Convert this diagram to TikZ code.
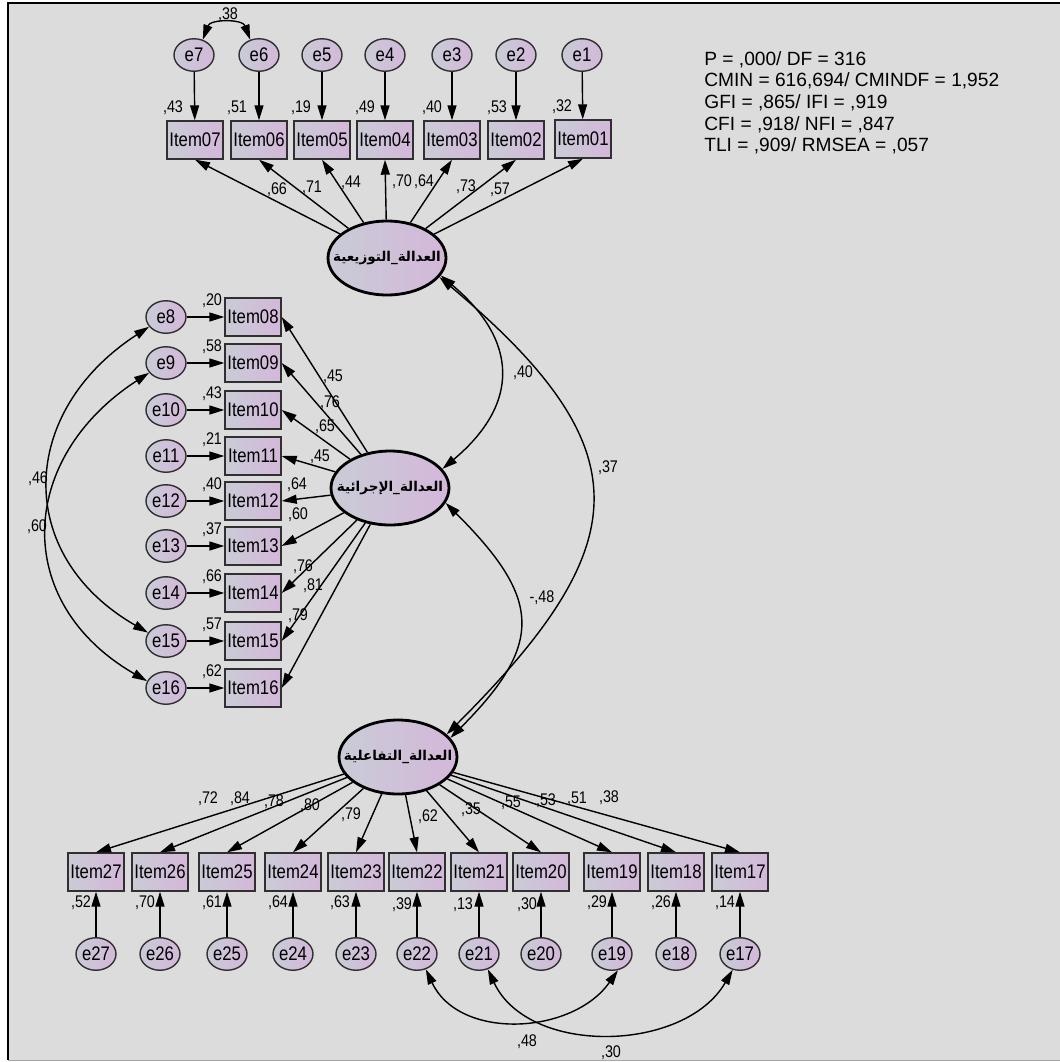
\documentclass[tikz,border=0pt]{standalone}
\usepackage{fontspec}
\setmainfont{Liberation Sans}
\newfontfamily\itemfont[FakeStretch=0.85]{Liberation Sans}
\newfontfamily\arabicfont[Script=Arabic]{DejaVu Sans}
\TeXXeTstate=1
\usepackage{xcolor}
\usetikzlibrary{arrows.meta,shapes.geometric}

\definecolor{bgfill}{HTML}{DCDCDC}
\definecolor{fillA}{HTML}{C9CCD6}
\definecolor{fillB}{HTML}{D4B7DA}
\definecolor{rim}{HTML}{303030}

\newcommand{\arlabel}[1]{\makebox[0pt]{\beginR #1\endR}}

\tikzset{
  obsbox/.style={draw=rim, line width=0.8pt, rectangle, minimum width=1.12cm, minimum height=0.76cm, inner sep=0pt, left color=fillA, right color=fillB, font=\itemfont\fontsize{11.2}{12}\selectfont},
  errnode/.style={draw=rim, line width=0.8pt, ellipse, minimum width=0.8cm, minimum height=0.65cm, inner sep=0pt, left color=fillA, right color=fillB, font=\itemfont\fontsize{11.2}{12}\selectfont},
  latnode/.style={draw, line width=1.6pt, ellipse, minimum width=2.36cm, minimum height=1.48cm, inner sep=0pt, left color=fillA, right color=fillB, font=\arabicfont\bfseries\fontsize{7.7}{10}\selectfont},
  coef/.style={inner sep=0pt, font=\itemfont\fontsize{9.6}{10}\selectfont},
  regline/.style={-{Triangle[length=3mm,width=1.8mm]}, line width=0.8pt},
  covline/.style={{Triangle[length=3mm,width=1.8mm]}-{Triangle[length=3mm,width=1.8mm]}, line width=0.8pt}
}

\begin{document}
\begin{tikzpicture}[x=0.02cm,y=0.02cm]
	\useasboundingbox (0,0) rectangle (1060,-1062);
	% frame
	\fill[white] (0,0) rectangle (1060,-1062);
	\fill[bgfill] (8,-3) rectangle (1060,-1060);
	\draw[gray!70,line width=1pt] (8,-1060.5) -- (1060,-1060.5);
	\draw[line width=1.4pt] (8,-1060) -- (8,-3) -- (1060,-3);
	
	% fit statistics
	\node[anchor=north west, align=left, inner sep=0pt, font=\fontsize{10.9}{12.3}\selectfont] (fitstats) at (704,-51) {P = ,000/ DF = 316\\CMIN = 616,694/ CMINDF = 1,952\\GFI = ,865/ IFI = ,919\\CFI = ,918/ NFI = ,847\\TLI = ,909/ RMSEA = ,057};
	
	% factors
	\node[latnode] (dist) at (387,-258) {\arlabel{العدالة\_التوزيعية}};
	\node[latnode] (proc) at (390,-488) {\arlabel{العدالة\_الإجرائية}};
	\node[latnode] (inter) at (398,-757) {\arlabel{العدالة\_التفاعلية}};
	
	% top items
	\node[obsbox] (i07) at (195,-140) {Item07};
	\node[obsbox] (i06) at (259,-140) {Item06};
	\node[obsbox] (i05) at (322,-140) {Item05};
	\node[obsbox] (i04) at (385,-140) {Item04};
	\node[obsbox] (i03) at (452,-140) {Item03};
	\node[obsbox] (i02) at (516,-140) {Item02};
	\node[obsbox] (i01) at (583,-139) {Item01};
	\node[errnode] (e7) at (194,-55) {e7};
	\node[errnode] (e6) at (259,-55) {e6};
	\node[errnode] (e5) at (322,-55) {e5};
	\node[errnode] (e4) at (385,-55) {e4};
	\node[errnode] (e3) at (452,-55) {e3};
	\node[errnode] (e2) at (516,-55) {e2};
	\node[errnode] (e1) at (582,-55) {e1};
	\draw[regline] (e7) -- (i07);
	\draw[regline] (e6) -- (i06);
	\draw[regline] (e5) -- (i05);
	\draw[regline] (e4) -- (i04);
	\draw[regline] (e3) -- (i03);
	\draw[regline] (e2) -- (i02);
	\draw[regline] (e1) -- (i01);
	\draw[regline] (dist) -- (i07.south);
	\draw[regline] (dist) -- (i06.south);
	\draw[regline] (dist) -- (i05.south);
	\draw[regline] (dist) -- (i04.south);
	\draw[regline] (dist) -- (i03.south);
	\draw[regline] (dist) -- (i02.south);
	\draw[regline] (dist) -- (i01.south);
	\draw[covline] (e7.60) to[out=70,in=110,looseness=1.2] (e6.120);
	\node[coef] at (228,-15) {,38};
	\node[coef] at (173,-108) {,43};
	\node[coef] at (237,-108) {,51};
	\node[coef] at (301,-108) {,19};
	\node[coef] at (365,-108) {,49};
	\node[coef] at (432,-108) {,40};
	\node[coef] at (497,-108) {,53};
	\node[coef] at (562,-107) {,32};
	\node[coef] at (277,-190) {,66};
	\node[coef] at (312,-188) {,71};
	\node[coef] at (351,-183) {,44};
	\node[coef] at (402,-182) {,70};
	\node[coef] at (424,-182) {,64};
	\node[coef] at (466,-187) {,73};
	\node[coef] at (500,-190) {,57};
	
	% middle items
	\node[obsbox] (i08) at (253,-317) {Item08};
	\node[obsbox] (i09) at (253,-363) {Item09};
	\node[obsbox] (i10) at (253,-410) {Item10};
	\node[obsbox] (i11) at (253,-456) {Item11};
	\node[obsbox] (i12) at (253,-501) {Item12};
	\node[obsbox] (i13) at (253,-546) {Item13};
	\node[obsbox] (i14) at (253,-593) {Item14};
	\node[obsbox] (i15) at (253,-641) {Item15};
	\node[obsbox] (i16) at (253,-688) {Item16};
	\node[errnode] (e8) at (166,-317) {e8};
	\node[errnode] (e9) at (166,-363) {e9};
	\node[errnode] (e10) at (166,-410) {e10};
	\node[errnode] (e11) at (166,-456) {e11};
	\node[errnode] (e12) at (166,-501) {e12};
	\node[errnode] (e13) at (166,-546) {e13};
	\node[errnode] (e14) at (166,-593) {e14};
	\node[errnode] (e15) at (166,-641) {e15};
	\node[errnode] (e16) at (166,-688) {e16};
	\draw[regline] (e8) -- (i08);
	\draw[regline] (e9) -- (i09);
	\draw[regline] (e10) -- (i10);
	\draw[regline] (e11) -- (i11);
	\draw[regline] (e12) -- (i12);
	\draw[regline] (e13) -- (i13);
	\draw[regline] (e14) -- (i14);
	\draw[regline] (e15) -- (i15);
	\draw[regline] (e16) -- (i16);
	\draw[regline] (proc) -- (i08.east);
	\draw[regline] (proc) -- (i09.east);
	\draw[regline] (proc) -- (i10.east);
	\draw[regline] (proc) -- (i11.east);
	\draw[regline] (proc) -- (i12.east);
	\draw[regline] (proc) -- (i13.east);
	\draw[regline] (proc) -- (i14.east);
	\draw[regline] (proc) -- (i15.east);
	\draw[regline] (proc) -- (i16.east);
	\draw[covline] (e8.210) to[out=213,in=150,looseness=1.3] (e15.155);
	\draw[covline] (e9.210) to[out=213,in=150,looseness=1.3] (e16.160);
	\node[coef] at (38,-479) {,46};
	\node[coef] at (37,-527) {,60};
	\node[coef] at (212,-301) {,20};
	\node[coef] at (212,-347) {,58};
	\node[coef] at (212,-394) {,43};
	\node[coef] at (212,-440) {,21};
	\node[coef] at (212,-485) {,40};
	\node[coef] at (212,-530) {,37};
	\node[coef] at (212,-577) {,66};
	\node[coef] at (212,-625) {,57};
	\node[coef] at (212,-672) {,62};
	\node[coef] at (333,-377) {,45};
	\node[coef] at (330,-403) {,76};
	\node[coef] at (325,-427) {,65};
	\node[coef] at (320,-457) {,45};
	\node[coef] at (297,-485) {,64};
	\node[coef] at (298,-515) {,60};
	\node[coef] at (303,-567) {,76};
	\node[coef] at (313,-586) {,81};
	\node[coef] at (298,-616) {,79};
	
	% factor covariances
	\draw[covline] (dist.-18) to[out=-40,in=40,looseness=1.34] (proc.20);
	\draw[covline] (dist.-20) to[out=-40,in=45,looseness=1.5] (inter.25);
	\draw[covline] (proc.-15) to[out=-45,in=45,looseness=1.46] (inter.20);
	\node[coef] at (523,-373) {,40};
	\node[coef] at (608,-468) {,37};
	\node[coef] at (542,-598) {-,48};
	
	% bottom items
	\node[obsbox] (i27) at (96,-872) {Item27};
	\node[obsbox] (i26) at (160,-872) {Item26};
	\node[obsbox] (i25) at (227,-872) {Item25};
	\node[obsbox] (i24) at (293,-872) {Item24};
	\node[obsbox] (i23) at (356,-872) {Item23};
	\node[obsbox] (i22) at (417,-872) {Item22};
	\node[obsbox] (i21) at (479,-872) {Item21};
	\node[obsbox] (i20) at (541,-872) {Item20};
	\node[obsbox] (i19) at (612,-872) {Item19};
	\node[obsbox] (i18) at (676,-872) {Item18};
	\node[obsbox] (i17) at (740,-872) {Item17};
	\node[errnode] (e27) at (96,-954) {e27};
	\node[errnode] (e26) at (160,-954) {e26};
	\node[errnode] (e25) at (227,-954) {e25};
	\node[errnode] (e24) at (293,-954) {e24};
	\node[errnode] (e23) at (356,-954) {e23};
	\node[errnode] (e22) at (417,-954) {e22};
	\node[errnode] (e21) at (479,-954) {e21};
	\node[errnode] (e20) at (541,-954) {e20};
	\node[errnode] (e19) at (612,-954) {e19};
	\node[errnode] (e18) at (676,-954) {e18};
	\node[errnode] (e17) at (740,-954) {e17};
	\draw[regline] (e27) -- (i27);
	\draw[regline] (e26) -- (i26);
	\draw[regline] (e25) -- (i25);
	\draw[regline] (e24) -- (i24);
	\draw[regline] (e23) -- (i23);
	\draw[regline] (e22) -- (i22);
	\draw[regline] (e21) -- (i21);
	\draw[regline] (e20) -- (i20);
	\draw[regline] (e19) -- (i19);
	\draw[regline] (e18) -- (i18);
	\draw[regline] (e17) -- (i17);
	\draw[regline] (inter) -- (i27.north);
	\draw[regline] (inter) -- (i26.north);
	\draw[regline] (inter) -- (i25.north);
	\draw[regline] (inter) -- (i24.north);
	\draw[regline] (inter) -- (i23.north);
	\draw[regline] (inter) -- (i22.north);
	\draw[regline] (inter) -- (i21.north);
	\draw[regline] (inter) -- (i20.north);
	\draw[regline] (inter) -- (i19.north);
	\draw[regline] (inter) -- (i18.north);
	\draw[regline] (inter) -- (i17.north);
	\draw[covline] (e22.-60) to[out=-65,in=-125,looseness=1.05] (e19.-70);
	\draw[covline] (e21.-60) to[out=-65,in=-120,looseness=1.0] (e17.-115);
	\node[coef] at (527,-1042) {,48};
	\node[coef] at (611,-1053) {,30};
	\node[coef] at (81,-903) {,52};
	\node[coef] at (145,-903) {,70};
	\node[coef] at (212,-903) {,61};
	\node[coef] at (278,-903) {,64};
	\node[coef] at (340,-903) {,63};
	\node[coef] at (402,-905) {,39};
	\node[coef] at (463,-905) {,13};
	\node[coef] at (527,-905) {,30};
	\node[coef] at (597,-903) {,29};
	\node[coef] at (661,-903) {,26};
	\node[coef] at (725,-903) {,14};
	\node[coef] at (208,-799) {,72};
	\node[coef] at (240,-799) {,84};
	\node[coef] at (274,-802) {,78};
	\node[coef] at (310,-806) {,80};
	\node[coef] at (351,-815) {,79};
	\node[coef] at (428,-817) {,62};
	\node[coef] at (471,-810) {,35};
	\node[coef] at (511,-803) {,55};
	\node[coef] at (546,-801) {,53};
	\node[coef] at (577,-799) {,51};
	\node[coef] at (609,-798) {,38};
\end{tikzpicture}
\end{document}
